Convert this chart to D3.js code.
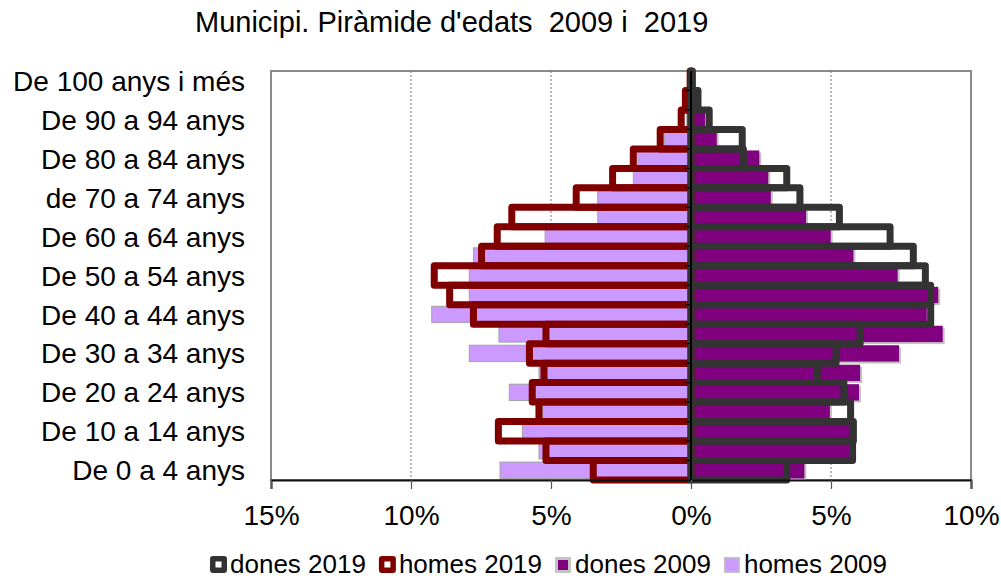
<!DOCTYPE html>
<html>
<head>
<meta charset="utf-8">
<script src="https://cdn.jsdelivr.net/npm/d3@7"></script>
<style>
  body { margin: 0; background: #fff; }
  text { font-family: "Liberation Sans", Arial, Helvetica, sans-serif; fill: #000; }
</style>
</head>
<body>
<div id="chart"></div>
<script>
// age groups, bottom (youngest) to top
const ages = [
  "De 0 a 4 anys", "De 5 a 9 anys", "De 10 a 14 anys", "De 15 a 19 anys",
  "De 20 a 24 anys", "De 25 a 29 anys", "De 30 a 34 anys", "De 35 a 39 anys",
  "De 40 a 44 anys", "De 45 a 49 anys", "De 50 a 54 anys", "De 55 a 59 anys",
  "De 60 a 64 anys", "De 65 a 69 anys", "de 70 a 74 anys", "De 75 a 79 anys",
  "De 80 a 84 anys", "De 85 a 89 anys", "De 90 a 94 anys", "De 95 a 99 anys",
  "De 100 anys i més"
];
// percentages of population
const homes2019 = [3.49, 5.18, 6.88, 5.43, 5.67, 5.25, 5.77, 5.18, 7.77, 8.62, 9.17, 7.48, 6.92, 6.4, 4.1, 2.8, 2.06, 1.1, 0.35, 0.2, 0.03];
const homes2009 = [6.82, 5.43, 6.02, 5.3, 6.49, 5.43, 7.92, 6.86, 9.26, 7.92, 7.92, 7.77, 5.21, 3.33, 3.33, 2.06, 1.9, 0.95, 0.15, 0.05, 0.01];
const dones2019 = [3.42, 5.77, 5.8, 5.7, 5.46, 4.51, 5.18, 6.04, 8.56, 8.56, 8.37, 7.94, 7.11, 5.3, 3.89, 3.42, 1.87, 1.83, 0.65, 0.25, 0.05];
const dones2009 = [4.05, 5.65, 5.68, 4.96, 6.0, 6.04, 7.43, 8.99, 8.42, 8.83, 7.38, 5.8, 4.99, 4.11, 2.85, 2.76, 2.44, 0.92, 0.5, 0.1, 0.03];

const xTicks = [-15, -10, -5, 0, 5, 10];
const gridTicks = [-10, -5, 5];
const shownLabels = ages.filter((d, i) => i % 2 === 0);
const title = "Municipi. Piràmide d'edats  2009 i  2019";
const legendItems = ["dones 2019", "homes 2019", "dones 2009", "homes 2009"];

const W = 1001, H = 578;
const plot = {left: 271, right: 971, top: 71, bottom: 480};

const svg = d3.select("#chart").append("svg")
  .attr("width", W).attr("height", H);

const x = d3.scaleLinear().domain([-15, 10]).range([plot.left, plot.right]);
const y = d3.scaleBand().domain(ages.slice().reverse()).range([plot.top, plot.bottom]);
const y09 = d3.scaleBand().domain(ages.slice().reverse()).range([plot.top, plot.bottom])
  .paddingInner(0.16).paddingOuter(0.08);

const rows = ages.map((a, i) => ({
  age: a, h19: homes2019[i], h09: homes2009[i], d19: dones2019[i], d09: dones2009[i]
}));

// frame
svg.append("rect")
  .attr("x", plot.left).attr("y", plot.top)
  .attr("width", plot.right - plot.left).attr("height", plot.bottom - plot.top)
  .attr("fill", "#fff").attr("stroke", "#8a8a8a").attr("stroke-width", 2);

// dotted grid
svg.selectAll(".grid").data(gridTicks).join("line")
  .attr("x1", d => x(d)).attr("x2", d => x(d))
  .attr("y1", plot.top).attr("y2", plot.bottom)
  .attr("stroke", "#777").attr("stroke-width", 1).attr("stroke-dasharray", "2,2");

// homes 2009
svg.append("g").selectAll("rect").data(rows).join("rect")
  .attr("x", d => x(-d.h09)).attr("y", d => y09(d.age))
  .attr("width", d => x(0) - x(-d.h09)).attr("height", y09.bandwidth())
  .attr("fill", "#cc99ff").attr("stroke", "#a3a3a3").attr("stroke-width", 1);

// dones 2009 (with soft shadow)
svg.append("g").selectAll("rect").data(rows).join("rect")
  .attr("x", x(0) + 2).attr("y", d => y09(d.age) + 2)
  .attr("width", d => x(d.d09) - x(0)).attr("height", y09.bandwidth())
  .attr("fill", "#c4c4c4");
svg.append("g").selectAll("rect").data(rows).join("rect")
  .attr("x", x(0)).attr("y", d => y09(d.age))
  .attr("width", d => x(d.d09) - x(0)).attr("height", y09.bandwidth())
  .attr("fill", "#800080");

// homes 2019 outlines
svg.append("g").selectAll("rect").data(rows).join("rect")
  .attr("x", d => x(-d.h19)).attr("y", d => y(d.age))
  .attr("width", d => x(0) - x(-d.h19)).attr("height", y.bandwidth())
  .attr("fill", "none").attr("stroke", "#800000").attr("stroke-width", 7)
  .attr("stroke-linejoin", "round");

// dones 2019 outlines
svg.append("g").selectAll("rect").data(rows).join("rect")
  .attr("x", x(0)).attr("y", d => y(d.age))
  .attr("width", d => x(d.d19) - x(0)).attr("height", y.bandwidth())
  .attr("fill", "none").attr("stroke", "#333333").attr("stroke-width", 7)
  .attr("stroke-linejoin", "round");

// zero axis with category ticks
const zero = svg.append("g");
zero.append("line")
  .attr("x1", x(0)).attr("x2", x(0)).attr("y1", plot.top).attr("y2", plot.bottom)
  .attr("stroke", "#000").attr("stroke-width", 2);
zero.selectAll(".ct").data(ages.slice(0, ages.length - 1)).join("line")
  .attr("x1", x(0) - 6).attr("x2", x(0))
  .attr("y1", d => y(d)).attr("y2", d => y(d))
  .attr("stroke", "#000").attr("stroke-width", 1.2);

// bottom axis
const xAxis = svg.append("g")
  .attr("transform", `translate(0,${plot.bottom})`)
  .call(d3.axisBottom(x).tickValues(xTicks).tickSize(9).tickFormat(d => Math.abs(d) + "%"));
xAxis.select(".domain").attr("stroke", "#111").attr("stroke-width", 2);
xAxis.selectAll(".tick line").attr("stroke", "#555").attr("stroke-width", 1.2);
xAxis.selectAll(".tick text")
  .attr("y", 45).attr("dy", 0)
  .style("font-size", "28px").style("font-family", "'Liberation Sans', Arial, sans-serif");

// category labels
const yAxis = svg.append("g")
  .attr("transform", `translate(${plot.left},0)`)
  .call(d3.axisLeft(y).tickValues(shownLabels).tickSize(0).tickPadding(26));
yAxis.select(".domain").remove();
yAxis.selectAll(".tick text")
  .attr("dy", "0.36em")
  .style("font-size", "28px").style("font-family", "'Liberation Sans', Arial, sans-serif");

// title (keep the double spaces)
svg.append("text")
  .attr("x", 195).attr("y", 32)
  .style("font-size", "29px")
  .style("white-space", "pre")
  .attr("xml:space", "preserve")
  .text(title);

// legend
const lg = svg.append("g");
let cx = 210;
legendItems.forEach((name, i) => {
  const g = lg.append("g").attr("transform", `translate(${cx},556)`);
  if (i === 0 || i === 1) {
    const c = i === 0 ? "#333333" : "#800000";
    g.append("rect").attr("width", 17).attr("height", 17).attr("rx", 3).attr("fill", c);
    g.append("rect").attr("x", 5.5).attr("y", 5.5).attr("width", 6).attr("height", 6).attr("fill", "#fff");
  } else if (i === 2) {
    g.append("rect").attr("y", 1).attr("width", 16).attr("height", 16).attr("fill", "#c4c4c4");
    g.append("rect").attr("x", 3).attr("y", 4).attr("width", 10).attr("height", 10).attr("fill", "#800080");
  } else {
    g.append("rect").attr("y", 1).attr("width", 16).attr("height", 16).attr("fill", "#c4c4c4");
    g.append("rect").attr("x", 1.5).attr("y", 2.5).attr("width", 13).attr("height", 13).attr("fill", "#cc99ff");
  }
  const t = g.append("text").attr("x", 20).attr("y", 17)
    .style("font-size", "26px").text(name);
  cx += 20 + t.node().getComputedTextLength() + 13;
});
</script>
</body>
</html>
